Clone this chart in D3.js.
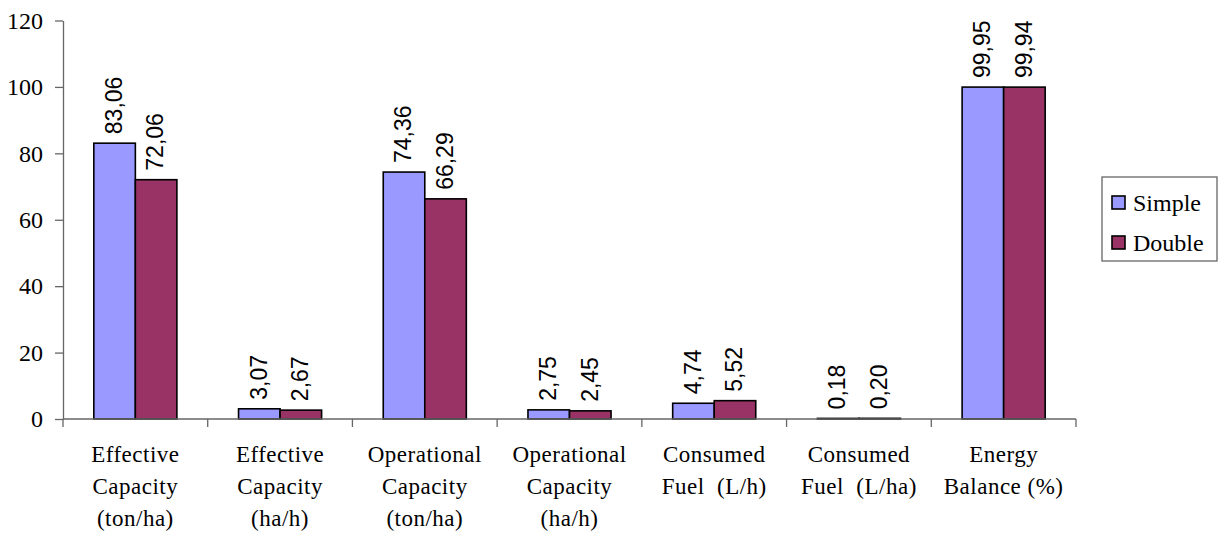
<!DOCTYPE html>
<html><head><meta charset="utf-8">
<script src="https://cdn.jsdelivr.net/npm/d3@7"></script>
<style>body{margin:0;background:#fff}svg{display:block}</style>
</head><body>
<svg id="c" width="1219" height="533"></svg>
<script>
const categories = [
  ["Effective","Capacity","(ton/ha)"],
  ["Effective","Capacity","(ha/h)"],
  ["Operational","Capacity","(ton/ha)"],
  ["Operational","Capacity","(ha/h)"],
  ["Consumed","Fuel  (L/h)"],
  ["Consumed","Fuel  (L/ha)"],
  ["Energy","Balance (%)"]
];
const seriesNames = ["Simple","Double"];
const simpleValues = [83.06, 3.07, 74.36, 2.75, 4.74, 0.18, 99.95];
const doubleValues = [72.06, 2.67, 66.29, 2.45, 5.52, 0.20, 99.94];
const yTicks = [0, 20, 40, 60, 80, 100, 120];
const colors = ["#9999FF", "#993366"];

(function(){
const SERIF = '"Liberation Serif"';
const SANS = '"Liberation Sans"';
const svg = d3.select("#c");
const pLeft = 63, pRight = 1076, pTop = 20.5, pBottom = 419;
const catIdx = categories.map((d,i)=>i);
const x0 = d3.scaleBand().domain(catIdx).range([pLeft, pRight]).padding(0);
const bw = x0.bandwidth();
const x1 = d3.scaleBand().domain(seriesNames).range([bw*0.213, bw*0.787]).padding(0);
const y = d3.scaleLinear().domain([0,120]).range([pBottom, pTop]);
const series = [simpleValues, doubleValues];
const fmt = v => d3.format(".2f")(v).replace(".", ",");

// y axis
const yAxis = svg.append("g").attr("transform",`translate(${pLeft},0)`)
  .call(d3.axisLeft(y).tickValues(yTicks).tickSize(8).tickSizeOuter(0).tickPadding(12));
yAxis.attr("font-family", null).attr("font-size", null);
yAxis.select(".domain").attr("stroke","#666").attr("stroke-width",1.3);
yAxis.selectAll(".tick line").attr("stroke","#666").attr("stroke-width",1.3);
yAxis.selectAll(".tick text").style("font-family",SERIF).style("font-size","24px").attr("fill","#000");

// bars
const g = svg.append("g");
catIdx.forEach(i => {
  seriesNames.forEach((s, si) => {
    const v = series[si][i];
    const bx = x0(i) + x1(s);
    g.append("rect")
      .attr("x", bx).attr("y", y(v))
      .attr("width", x1.bandwidth()).attr("height", y(0) - y(v))
      .attr("fill", colors[si]).attr("stroke", "#000").attr("stroke-width", 1.6);
    const cx = bx + x1.bandwidth()/2 - 1;
    const ty = y(v) - 9;
    g.append("text")
      .attr("transform", `translate(${cx},${ty}) rotate(-90)`)
      .attr("dy","0.36em")
      .style("font-family",SANS).style("font-size","23px")
      .attr("fill","#000")
      .text(fmt(v));
  });
});

// x axis
const xAxis = svg.append("g").attr("transform",`translate(0,${pBottom})`);
xAxis.append("line").attr("x1",pLeft).attr("x2",pRight).attr("stroke","#666").attr("stroke-width",1.3);
d3.range(categories.length + 1).forEach(k => {
  const xx = pLeft + k*bw;
  xAxis.append("line").attr("x1",xx).attr("x2",xx).attr("y1",0).attr("y2",8)
    .attr("stroke","#666").attr("stroke-width",1.3);
});
catIdx.forEach(i => {
  const t = xAxis.append("text")
    .attr("x", x0(i) + bw/2).attr("y", 43)
    .attr("text-anchor","middle")
    .style("font-family",SERIF).style("font-size","23px")
    .style("letter-spacing","0.5px")
    .attr("fill","#000");
  categories[i].forEach((line, li) => {
    t.append("tspan").attr("x", x0(i) + bw/2).attr("dy", li === 0 ? 0 : 32)
      .style("white-space","pre").text(line);
  });
});

// legend
const lg = svg.append("g");
lg.append("rect").attr("x",1102).attr("y",177).attr("width",115).attr("height",84)
  .attr("fill","#fff").attr("stroke","#666").attr("stroke-width",1.3);
seriesNames.forEach((s, si) => {
  const cy = 202 + si*40;
  lg.append("rect").attr("x",1112).attr("y",cy-6).attr("width",13).attr("height",13)
    .attr("fill",colors[si]).attr("stroke","#000").attr("stroke-width",1.6);
  lg.append("text").attr("x",1133).attr("y",cy).attr("dy","0.36em")
    .style("font-family",SERIF).style("font-size","24px").attr("fill","#000")
    .text(s);
});
})();
</script>
</body></html>
